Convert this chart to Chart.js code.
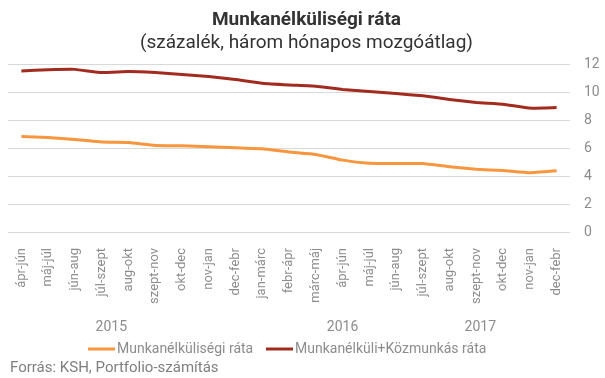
<!DOCTYPE html>
<html>
<head>
<meta charset="utf-8">
<script src="https://cdn.jsdelivr.net/npm/chart.js@4.4.1/dist/chart.umd.min.js"></script>
<style>
  html, body { margin: 0; padding: 0; background: #fff; }
  #wrap { width: 605px; height: 378px; }
</style>
</head>
<body>
<div id="wrap"><canvas id="chart" width="605" height="378"></canvas></div>
<script>
const periods = [
  "ápr-jún", "máj-júl", "jún-aug", "júl-szept", "aug-okt", "szept-nov",
  "okt-dec", "nov-jan", "dec-febr", "jan-márc", "febr-ápr", "márc-máj",
  "ápr-jún", "máj-júl", "jún-aug", "júl-szept", "aug-okt", "szept-nov",
  "okt-dec", "nov-jan", "dec-febr"
];
const unemployment = [
  6.83, 6.76, 6.62, 6.43, 6.4, 6.19, 6.17, 6.1, 6.02, 5.95, 5.72,
  5.55, 5.14, 4.92, 4.9, 4.9, 4.67, 4.48, 4.4, 4.24, 4.38
];
const withPublicWork = [
  11.52, 11.6, 11.63, 11.4, 11.47, 11.4, 11.26, 11.12, 10.9, 10.64, 10.52,
  10.43, 10.19, 10.05, 9.9, 9.74, 9.48, 9.26, 9.14, 8.86, 8.9
];
const years = ["2015", "2016", "2017"];
const yearPos = [3.36, 12.0, 17.15]; // category index where each year label sits

const seriesNames = ["Munkanélküliségi ráta", "Munkanélküli+Közmunkás ráta"];
const seriesColors = ["#f7963f", "#a22b1f"];
const gray = "#8c8c8c";
const font = "Roboto";

const bottomText = {
  id: "bottomText",
  afterDraw(chart) {
    const { ctx } = chart;
    const x = chart.scales.x;
    ctx.save();
    ctx.fillStyle = gray;
    ctx.textBaseline = "middle";

    ctx.font = `14px ${font}`;
    ctx.textAlign = "center";
    years.forEach((y, i) => ctx.fillText(y, x.getPixelForValue(yearPos[i]), 327));

    // legend
    const legendX = [88, 266];
    ctx.textAlign = "left";
    seriesNames.forEach((name, i) => {
      ctx.strokeStyle = seriesColors[i];
      ctx.lineWidth = 3;
      ctx.beginPath();
      ctx.moveTo(legendX[i], 349);
      ctx.lineTo(legendX[i] + 27, 349);
      ctx.stroke();
      ctx.fillText(name, legendX[i] + 29, 349);
    });

    ctx.font = `15px ${font}`;
    ctx.fillStyle = "#7f7f7f";
    ctx.fillText("Forrás: KSH, Portfolio-számítás", 10, 368);
    ctx.restore();
  }
};

new Chart(document.getElementById("chart"), {
  type: "line",
  data: {
    labels: periods,
    datasets: [
      {
        label: seriesNames[0],
        data: unemployment,
        borderColor: seriesColors[0],
        backgroundColor: seriesColors[0],
        borderWidth: 3,
        pointRadius: 0,
        tension: 0.1,
      },
      {
        label: seriesNames[1],
        data: withPublicWork,
        borderColor: seriesColors[1],
        backgroundColor: seriesColors[1],
        borderWidth: 3,
        pointRadius: 0,
        tension: 0.1,
      },
    ],
  },
  options: {
    responsive: false,
    animation: false,
    layout: { padding: { left: 8, right: 0, top: 0, bottom: 0 } },
    scales: {
      x: {
        offset: true,
        grid: { display: false },
        border: { display: false },
        ticks: {
          color: gray,
          font: { family: font, size: 13 },
          minRotation: 90,
          maxRotation: 90,
          autoSkip: false,
          padding: 8,
        },
        afterFit: (scale) => { scale.height = 146; },
      },
      y: {
        position: "right",
        min: 0,
        max: 12,
        grid: { color: "#d9d9d9", drawTicks: false },
        border: { display: false },
        ticks: {
          stepSize: 2,
          color: gray,
          font: { family: font, size: 14 },
          padding: 14,
        },
        afterFit: (scale) => { scale.width = 35; },
      },
    },
    plugins: {
      legend: { display: false },
      tooltip: { enabled: false },
      title: {
        display: true,
        text: "Munkanélküliségi ráta",
        color: "#333",
        font: { family: font, size: 19, weight: "bold" },
        padding: { top: 8.6, bottom: 0.2 },
      },
      subtitle: {
        display: true,
        text: "(százalék, három hónapos mozgóátlag)",
        color: "#333",
        font: { family: font, size: 19 },
        padding: { top: 0, bottom: 9.8 },
      },
    },
  },
  plugins: [bottomText],
});
</script>
</body>
</html>
